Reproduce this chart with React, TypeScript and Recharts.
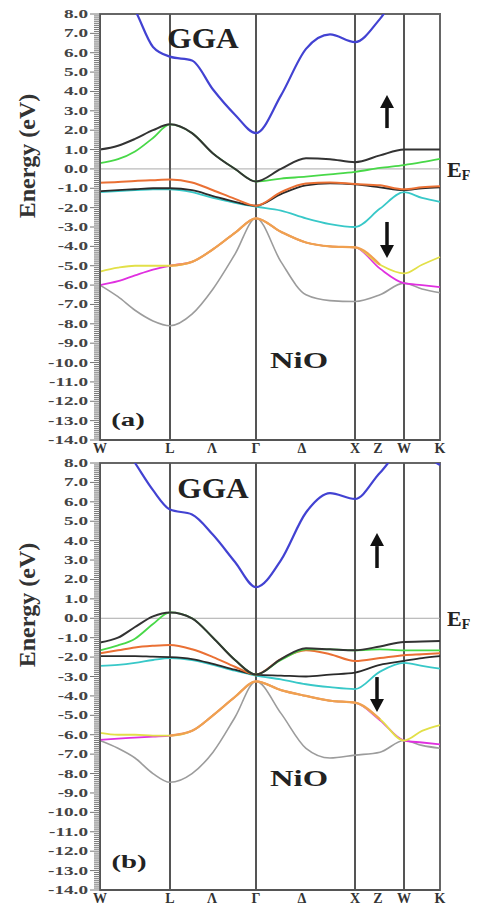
import React from 'react';
import {
  LineChart,
  Line,
  XAxis,
  YAxis,
  ReferenceLine,
  ReferenceDot,
  ReferenceArea,
} from 'recharts';

// position along the k-path (W = 0 ... K = 340)
const kPath = [0, 18, 35, 53, 70, 92, 113, 135, 156, 181, 206, 230, 255, 280, 304, 322, 340];
const symPoints = [70, 156, 255, 304];
const kLabelPos = [0, 70, 112, 156, 202, 255, 278, 304, 340];
const kLabels = ['W', 'L', 'Λ', 'Γ', 'Δ', 'X', 'Z', 'W', 'K'];
const energyTicks = [8, 7, 6, 5, 4, 3, 2, 1, 0, -1, -2, -3, -4, -5, -6, -7, -8, -9, -10, -11, -12, -13, -14];

// panel (a)
const aBlue = [10.8, 9.5, 8.2, 6.3, 5.8, 5.6, 4.1, 2.8, 1.85, 3.8, 6.2, 6.95, 6.55, 7.75, 9.5, 10.2, 10.5];
const aBlackTop = [1.0, 1.2, 1.55, 2.0, 2.3, 1.85, 0.8, 0.0, -0.65, 0.0, 0.55, 0.5, 0.35, 0.7, 1.0, 1.0, 1.0];
const aGreen = [0.3, 0.5, 0.9, 1.6, 2.3, 1.85, 0.8, 0.0, -0.65, -0.5, -0.4, -0.28, -0.15, 0.05, 0.2, 0.35, 0.52];
const aOrangeUp = [-0.72, -0.68, -0.62, -0.58, -0.55, -0.7, -1.1, -1.55, -1.9, -1.2, -0.75, -0.7, -0.78, -0.85, -1.05, -0.95, -0.9];
const aBlackLow = [-1.15, -1.1, -1.05, -1.0, -1.0, -1.1, -1.4, -1.7, -1.9, -1.3, -0.85, -0.75, -0.8, -0.95, -1.1, -1.0, -0.95];
const aCyan = [-1.2, -1.15, -1.1, -1.05, -1.05, -1.2, -1.5, -1.75, -1.95, -2.15, -2.55, -2.85, -3.0, -2.05, -1.2, -1.5, -1.7];
const aYellow = [-5.3, -5.1, -5.0, -5.0, -5.0, -4.8, -4.15, -3.3, -2.55, -3.25, -3.8, -4.0, -4.05, -4.95, -5.4, -4.95, -4.55];
const aMagenta = [-6.0, -5.8, -5.5, -5.2, -5.0, -4.8, -4.15, -3.3, -2.55, -3.25, -3.8, -4.0, -4.05, -5.15, -5.9, -6.0, -6.1];
const aOrangeLow = [null, null, null, null, -5.0, -4.8, -4.15, -3.3, -2.55, -3.25, -3.8, -4.0, -4.05, -4.95, null, null, null];
const aGray = [-6.0, -6.6, -7.3, -7.85, -8.1, -7.5, -6.2, -4.4, -2.55, -4.8, -6.5, -6.8, -6.85, -6.5, -5.9, -6.2, -6.4];

// panel (b)
const bBlue = [10.5, 9.3, 8.0, 6.6, 5.6, 5.35, 4.3, 2.9, 1.6, 3.0, 5.45, 6.45, 6.15, 7.5, 8.7, 8.4, 7.9];
const bBlackTop = [-1.25, -1.0, -0.45, 0.1, 0.3, 0.0, -1.0, -2.15, -2.9, -2.1, -1.55, -1.6, -1.65, -1.45, -1.22, -1.2, -1.17];
const bGreen = [-1.65, -1.4, -1.05, -0.3, 0.3, 0.0, -1.0, -2.15, -2.9, -2.15, -1.6, -1.6, -1.65, -1.6, -1.65, -1.65, -1.65];
const bOrangeUp = [-1.8, -1.65, -1.5, -1.42, -1.38, -1.6, -2.0, -2.5, -2.9, -2.1, -1.65, -1.85, -2.2, -2.05, -1.9, -1.85, -1.8];
const bBlackLow = [-1.95, -1.95, -1.95, -1.98, -2.0, -2.1, -2.35, -2.65, -2.9, -2.95, -3.0, -2.9, -2.8, -2.4, -2.2, -2.05, -1.95];
const bCyan = [-2.45, -2.4, -2.3, -2.15, -2.05, -2.15, -2.4, -2.7, -2.95, -3.15, -3.4, -3.55, -3.65, -2.75, -2.3, -2.45, -2.6];
const bYellow = [-5.9, -6.0, -6.0, -6.05, -6.05, -5.8, -5.0, -4.05, -3.25, -3.7, -4.0, -4.25, -4.35, -5.2, -6.3, -5.8, -5.5];
const bMagenta = [-6.27, -6.2, -6.15, -6.1, -6.05, -5.8, -5.0, -4.05, -3.25, -3.7, -4.0, -4.25, -4.35, -5.25, -6.3, -6.4, -6.5];
const bOrangeLow = [null, null, null, null, -6.05, -5.8, -5.0, -4.05, -3.25, -3.7, -4.0, -4.25, -4.35, -5.2, null, null, null];
const bGray = [-6.3, -6.7, -7.2, -8.0, -8.45, -8.0, -6.9, -5.1, -3.25, -4.9, -6.7, -7.2, -7.05, -6.9, -6.3, -6.55, -6.7];

const bandStyles = [
  { key: 'gray', color: '#9c9c9c', w: 1.6 },
  { key: 'magenta', color: '#e030e0', w: 1.8 },
  { key: 'yellow', color: '#e2e048', w: 1.8 },
  { key: 'orangeLow', color: '#f0a050', w: 2.2 },
  { key: 'cyan', color: '#38c8c8', w: 1.8 },
  { key: 'blackLow', color: '#2a2a2a', w: 1.8 },
  { key: 'orangeUp', color: '#ea7034', w: 2 },
  { key: 'green', color: '#48d848', w: 1.8 },
  { key: 'blackTop', color: '#333333', w: 2 },
  { key: 'blue', color: '#4242d2', w: 2.2 },
];

const buildRows = (bands: Record<string, (number | null)[]>) =>
  kPath.map((k, i) => {
    const row: any = { k };
    Object.keys(bands).forEach((name) => (row[name] = bands[name][i]));
    return row;
  });

const panelA = buildRows({
  blue: aBlue, blackTop: aBlackTop, green: aGreen, orangeUp: aOrangeUp, blackLow: aBlackLow,
  cyan: aCyan, yellow: aYellow, magenta: aMagenta, orangeLow: aOrangeLow, gray: aGray,
});
const panelB = buildRows({
  blue: bBlue, blackTop: bBlackTop, green: bGreen, orangeUp: bOrangeUp, blackLow: bBlackLow,
  cyan: bCyan, yellow: bYellow, magenta: bMagenta, orangeLow: bOrangeLow, gray: bGray,
});

// major ticks plus 0.1 minor steps for the comb on the energy axis
const allTicks: number[] = [];
energyTicks.forEach((t, i) => {
  allTicks.push(t);
  if (i < energyTicks.length - 1) {
    for (let j = 1; j < 10; j++) allTicks.push(Math.round((t - j * 0.1) * 10) / 10);
  }
});

const FONT = '"Liberation Serif", "Times New Roman", serif';
const PLOT_LEFT = 100;

const YTick = ({ y, payload }: any) => {
  const v = payload.value;
  const major = Math.abs(v - Math.round(v)) < 1e-6;
  return (
    <g>
      <line x1={PLOT_LEFT - (major ? 10 : 6)} x2={PLOT_LEFT} y1={y} y2={y} stroke="#777" strokeWidth={1} />
      {major && (
        <text
          transform={`translate(88,${y + 4}) scale(1.6,1)`}
          textAnchor="end"
          fontFamily={FONT}
          fontWeight="bold"
          fontSize={12}
          fill="#444"
        >
          {v.toFixed(1)}
        </text>
      )}
    </g>
  );
};

const XTick = ({ x, y, payload }: any) => {
  const idx = kLabelPos.indexOf(payload.value);
  return (
    <text x={x} y={y + 12.5} textAnchor="middle" fontFamily={FONT} fontWeight="bold" fontSize={14} fill="#333">
      {kLabels[idx]}
    </text>
  );
};

const annot = (text: string, size: number, sx: number) => (props: any) => (
  <text
    transform={`translate(${props.cx},${props.cy + size * 0.33}) scale(${sx},1)`}
    textAnchor="middle"
    fontFamily={FONT}
    fontWeight="bold"
    fontSize={size}
    fill="#222"
  >
    {text}
  </text>
);

const arrow = (props: any) => {
  const { x1, y1, x2, y2 } = props; // tail -> tip
  const dir = y2 < y1 ? 1 : -1;
  const head = 13;
  return (
    <g>
      <line x1={x1} y1={y1} x2={x2} y2={y2 + dir * head} stroke="#111" strokeWidth={3.5} />
      <path d={`M${x2},${y2} L${x2 - 7},${y2 + dir * head} L${x2 + 7},${y2 + dir * head} Z`} fill="#111" />
    </g>
  );
};

const FermiLabel = ({ viewBox }: any) => (
  <text x={viewBox.x + viewBox.width + 7} y={viewBox.y + 8} fontFamily={FONT} fontWeight="bold" fill="#222">
    <tspan fontSize={22}>E</tspan>
    <tspan fontSize={14} dy={3}>F</tspan>
  </text>
);

const EnergyLabel = ({ viewBox }: any) => (
  <text
    transform={`translate(${viewBox.x + 35},${viewBox.y + 142}) rotate(-90)`}
    textAnchor="middle"
    fontFamily={FONT}
    fontWeight="bold"
    fontSize={24}
    fill="#333"
  >
    Energy (eV)
  </text>
);

interface PanelProps {
  data: any[];
  height: number;
  tag: string;
  gga: [number, number];
  nio: [number, number];
  tagPos: [number, number];
  up: [number, number, number];
  down: [number, number, number];
}

const BandPanel: React.FC<PanelProps> = ({ data, height, tag, gga, nio, tagPos, up, down }) => (
  <LineChart width={484} height={height} data={data} margin={{ top: 14, right: 44, bottom: 0, left: 0 }}>
    <XAxis
      dataKey="k"
      type="number"
      domain={[0, 340]}
      ticks={kLabelPos}
      interval={0}
      tick={<XTick />}
      tickLine={false}
      tickSize={0}
      tickMargin={0}
      axisLine={{ stroke: '#555', strokeWidth: 2 }}
      height={20}
    />
    <YAxis
      type="number"
      domain={[-14, 8]}
      allowDataOverflow
      ticks={allTicks}
      interval={0}
      tick={<YTick />}
      tickLine={false}
      axisLine={{ stroke: '#555', strokeWidth: 2 }}
      width={100}
      label={<EnergyLabel />}
    />
    <ReferenceArea x1={0} x2={340} y1={-14} y2={8} fill="none" stroke="#666" strokeWidth={2} ifOverflow="visible" />
    <ReferenceLine y={0} stroke="#aaa" strokeWidth={1} label={<FermiLabel />} />
    {symPoints.map((p) => (
      <ReferenceLine key={p} x={p} stroke="#555" strokeWidth={2} />
    ))}
    {bandStyles.map((b) => (
      <Line
        key={b.key}
        type="monotone"
        dataKey={b.key}
        stroke={b.color}
        strokeWidth={b.w}
        dot={false}
        activeDot={false}
        isAnimationActive={false}
      />
    ))}
    <ReferenceDot x={gga[0]} y={gga[1]} shape={annot('GGA', 29, 1.08)} />
    <ReferenceDot x={nio[0]} y={nio[1]} shape={annot('NiO', 24, 1.36)} />
    <ReferenceDot x={tagPos[0]} y={tagPos[1]} shape={annot(tag, 18, 1.6)} />
    <ReferenceLine segment={[{ x: up[0], y: up[1] }, { x: up[0], y: up[2] }]} shape={arrow} />
    <ReferenceLine segment={[{ x: down[0], y: down[1] }, { x: down[0], y: down[2] }]} shape={arrow} />
  </LineChart>
);

export default function App() {
  return (
    <div style={{ position: 'absolute', left: 0, top: 0, width: 484, height: 905, background: '#fff', overflow: 'hidden' }}>
      <div style={{ position: 'absolute', left: 0, top: 0 }}>
        <BandPanel
          data={panelA}
          height={460}
          tag="(a)"
          gga={[103, 6.76]}
          nio={[199, -9.87]}
          tagPos={[28, -12.97]}
          up={[287, 2.11, 3.82]}
          down={[287, -2.74, -4.6]}
        />
      </div>
      <div style={{ position: 'absolute', left: 0, top: 449 }}>
        <BandPanel
          data={panelB}
          height={461}
          tag="(b)"
          gga={[113, 6.71]}
          nio={[199, -8.23]}
          tagPos={[29, -12.56]}
          up={[277, 2.59, 4.39]}
          down={[277, -3.03, -4.83]}
        />
      </div>
    </div>
  );
}
